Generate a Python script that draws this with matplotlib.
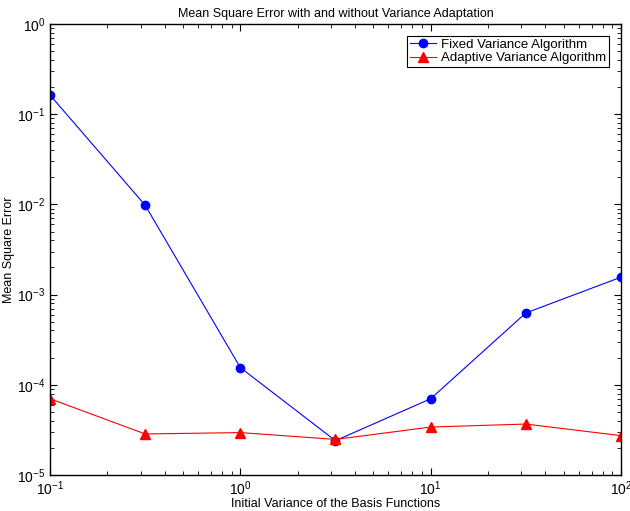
import matplotlib
matplotlib.use("Agg")
import matplotlib.pyplot as plt
import numpy as np

plt.rcParams['font.family'] = ['Liberation Sans', 'DejaVu Sans']
plt.rcParams['mathtext.fontset'] = 'custom'
plt.rcParams['mathtext.rm'] = 'Liberation Sans'
plt.rcParams['mathtext.it'] = 'Liberation Sans:italic'
plt.rcParams['mathtext.bf'] = 'Liberation Sans:bold'

# initial variance of the basis functions
variance = [0.1, 0.316, 1.0, 3.16, 10.0, 31.6, 100.0]
# mean square error per algorithm
mse_fixed = [0.163, 0.0098, 1.55e-4, 2.4e-5, 7.0e-5, 6.25e-4, 1.56e-3]
mse_adaptive = [7.0e-5, 2.85e-5, 2.95e-5, 2.48e-5, 3.4e-5, 3.67e-5, 2.73e-5]

fig = plt.figure(figsize=(6.3, 5.11), dpi=100)
ax = fig.add_axes([0.0794, 0.0705, 0.9063, 0.8825])

ax.loglog(variance, mse_fixed, color='blue', marker='o', markersize=6,
          linewidth=0.8, label='Fixed Variance Algorithm')
ax.loglog(variance, mse_adaptive, color='red', marker='^', markersize=7,
          linewidth=0.8, label='Adaptive Variance Algorithm')

ax.set_xlim(0.1, 100)
ax.set_ylim(1e-5, 1)
ax.tick_params(which='both', direction='in', top=True, right=True, labelsize=10)
ax.tick_params(which='major', length=5)
ax.tick_params(which='minor', length=3)
for s in ax.spines.values():
    s.set_linewidth(1.0)

ax.set_xlabel('Initial Variance of the Basis Functions', fontsize=9, labelpad=0)
ax.set_ylabel('Mean Square Error', fontsize=9, labelpad=1)
ax.set_title('Mean Square Error with and without Variance Adaptation', fontsize=9, pad=5)

leg = ax.legend(loc='upper right', fontsize=9.5, fancybox=False, framealpha=1,
                edgecolor='black', borderpad=0.2, handlelength=2.0,
                handletextpad=0.4, labelspacing=0.1, borderaxespad=0.9)
leg.get_frame().set_linewidth(0.8)

fig.savefig('out.png', dpi=100)
